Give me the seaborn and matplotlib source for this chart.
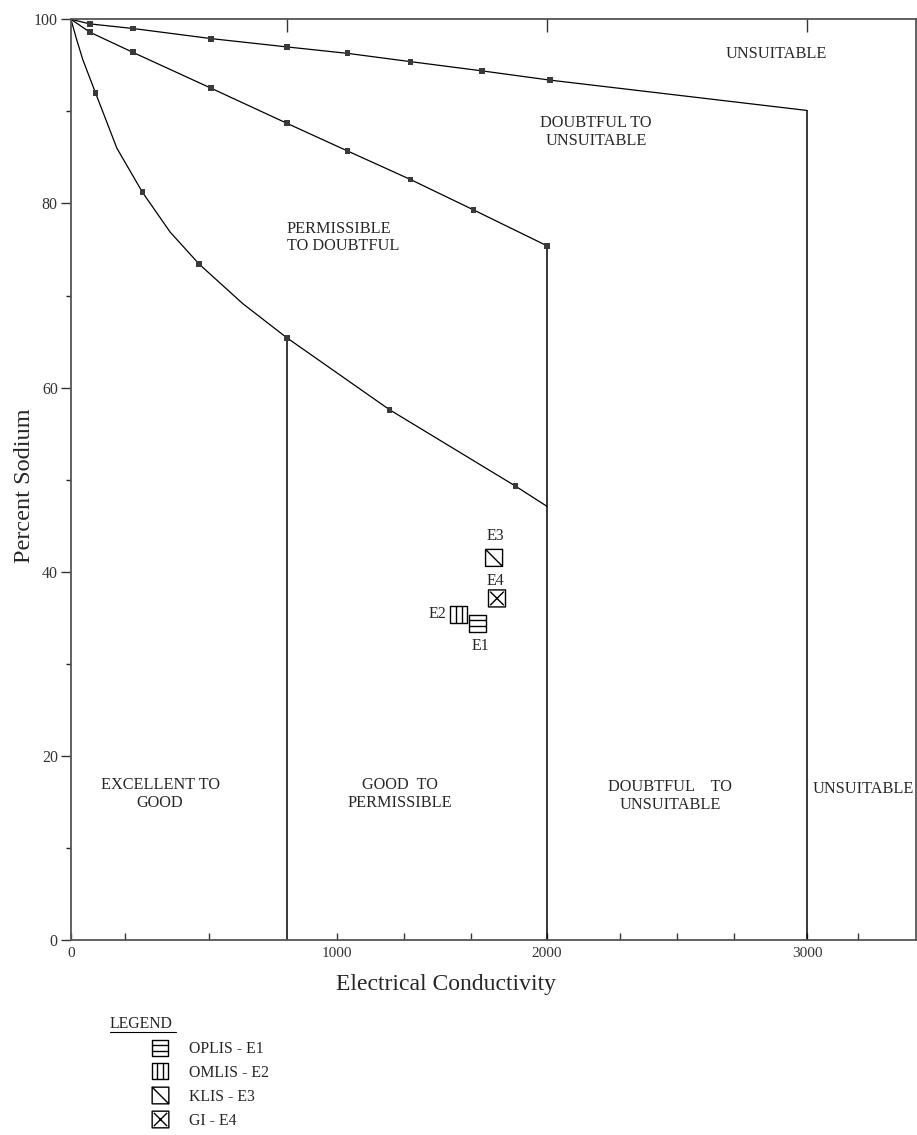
import numpy as np
import matplotlib
matplotlib.use("Agg")
import matplotlib.pyplot as plt
from matplotlib.path import Path
from matplotlib.lines import Line2D
import seaborn as sns

# boundary curves of the Wilcox diagram (EC, % Na)
top_ec = [0, 70, 230, 520, 800, 1050, 1350, 1690, 2010, 3000]
top_na = [100, 99.5, 99.0, 97.9, 97.0, 96.3, 95.4, 94.4, 93.4, 90.1]
top_marked = [False, True, True, True, True, True, True, True, True, False]

mid_ec = [0, 70, 230, 520, 800, 1050, 1350, 1650, 2000]
mid_na = [100, 98.6, 96.4, 92.5, 88.7, 85.7, 82.6, 79.3, 75.4]
mid_marked = [False, True, True, True, True, True, True, True, True]

low_ec = [0, 20, 44, 91, 170, 265, 367, 475, 637, 800, 1250, 1850, 2000]
low_na = [100, 97.9, 95.6, 92.0, 86.0, 81.2, 76.9, 73.4, 69.1, 65.4, 57.6, 49.3, 47.1]
low_marked = [False, False, False, True, False, True, False, True, False, True, True, True, False]

# vertical class limits
bound_ec = [800, 2000, 3000]
bound_top = [65.4, 75.4, 90.1]

# water samples
sample_names = ["OPLIS - E1", "OMLIS - E2", "KLIS - E3", "GI - E4"]
sample_tags = ["E1", "E2", "E3", "E4"]
sample_ec = [1668, 1580, 1748, 1762]
sample_na = [34.4, 35.4, 41.5, 37.1]

# the EC axis on the original sheet is not evenly stretched
ec_knots = [0, 800, 1000, 2000, 3000, 3450]
px_knots = [0, 216, 266, 476, 736, 845]


def fwd(x):
    return np.interp(x, ec_knots, px_knots)


def inv(p):
    return np.interp(p, px_knots, ec_knots)


def box_marker(extra):
    verts = [(-1, -1), (1, -1), (1, 1), (-1, 1), (-1, -1)]
    codes = [Path.MOVETO, Path.LINETO, Path.LINETO, Path.LINETO, Path.CLOSEPOLY]
    for a, b in extra:
        verts += [a, b]
        codes += [Path.MOVETO, Path.LINETO]
    return Path(verts, codes)


t = 1 / 3
q = 0.8
markers = {
    "OPLIS - E1": box_marker([((-1, t), (1, t)), ((-1, -t), (1, -t))]),
    "OMLIS - E2": box_marker([((t, -1), (t, 1)), ((-t, -1), (-t, 1))]),
    "KLIS - E3": box_marker([((-1, 1), (1, -1))]),
    "GI - E4": box_marker([((-q, q), (q, -q)), ((-q, -q), (q, q))]),
}

sns.set_theme(style="white")
plt.rcParams["font.family"] = ["Liberation Serif", "DejaVu Serif"]

fig, ax = plt.subplots(figsize=(9.17, 11.35), dpi=100)
fig.subplots_adjust(left=0.0774, right=0.9989, bottom=0.1718, top=0.983)
ax.set_xscale("function", functions=(fwd, inv))

for ec, na, mk in [(top_ec, top_na, top_marked), (mid_ec, mid_na, mid_marked),
                   (low_ec, low_na, low_marked)]:
    sns.lineplot(x=ec, y=na, sort=False, estimator=None, color="black", lw=0.9, ax=ax)
    sns.scatterplot(x=[e for e, m in zip(ec, mk) if m], y=[n for n, m in zip(na, mk) if m],
                    marker="s", s=18, color="#3a3a3a", edgecolor="none", ax=ax, zorder=3)

ax.vlines(bound_ec, 0, bound_top, color="black", lw=1.1)

sns.scatterplot(x=sample_ec, y=sample_na, style=sample_names, markers=markers,
                s=150, color="white", edgecolor="black", linewidth=1.0,
                legend=False, ax=ax, zorder=4)

tag_offsets = {"E1": (2, -16), "E2": (-15, 0), "E3": (1, 16), "E4": (-1, 12.5)}
for tag, x, y in zip(sample_tags, sample_ec, sample_na):
    ax.annotate(tag, (x, y), xytext=tag_offsets[tag], textcoords="offset points",
                ha="center", va="center", fontsize=11.5)

zone_kw = dict(fontsize=11.7, linespacing=1.15, va="center")
ax.text(2881, 96.2, "UNSUITABLE", ha="center", **zone_kw)
ax.text(2188, 87.8, "DOUBTFUL TO\nUNSUITABLE", ha="center", **zone_kw)
ax.text(800, 76.3, "PERMISSIBLE\nTO DOUBTFUL", ha="left", **zone_kw)
ax.text(330, 15.9, "EXCELLENT TO\nGOOD", ha="center", **zone_kw)
ax.text(1300, 15.9, "GOOD  TO\nPERMISSIBLE", ha="center", **zone_kw)
ax.text(2473, 15.6, "DOUBTFUL    TO\nUNSUITABLE", ha="center", **zone_kw)
ax.text(3025, 16.4, "UNSUITABLE", ha="left", **zone_kw)

ax.set_xlim(0, 3450)
ax.set_ylim(0, 100)
ax.set_xticks([0, 1000, 2000, 3000])
ax.set_xticks([200, 510, 1320, 1640, 2280, 2500, 2720, 3210], minor=True)
ax.set_yticks([0, 20, 40, 60, 80, 100])
ax.set_yticks([10, 30, 50, 70, 90], minor=True)
ax.tick_params(axis="x", which="both", direction="in", length=5, width=1,
               pad=5, labelsize=11, colors="#333333", bottom=True)
ax.tick_params(axis="y", which="major", direction="out", length=7.5, width=1,
               pad=2, labelsize=11.5, colors="#333333", left=True)
ax.tick_params(axis="y", which="minor", direction="out", length=3.5, width=1, left=True)

for sp in ax.spines.values():
    sp.set_visible(True)
    sp.set_color("#555555")
    sp.set_linewidth(1.3)

top = ax.twiny()
top.set_xscale("function", functions=(fwd, inv))
top.set_xlim(0, 3450)
top.set_xticks(bound_ec)
top.tick_params(axis="x", direction="in", length=9.5, width=1, color="#333333", labeltop=False)
for sp in top.spines.values():
    sp.set_visible(False)

ax.set_xlabel("Electrical Conductivity", fontsize=17)
ax.set_ylabel("Percent Sodium", fontsize=17.5)
ax.xaxis.set_label_coords(0.444, -0.037)
ax.yaxis.set_label_coords(-0.042, 0.493)

handles = [Line2D([], [], ls="none", marker=markers[n], ms=12, mfc="white",
                  mec="black", mew=1.0, label=n) for n in sample_names]
fig.legend(handles=handles, loc="upper left", bbox_to_anchor=(151 / 917, 1 - 1041 / 1135),
           frameon=False, fontsize=11.3, handlelength=1.2, handletextpad=1.2,
           labelspacing=0.5, borderpad=0, borderaxespad=0)
fig.text(110 / 917, 1 - 1024 / 1135, "LEGEND", fontsize=11.3, va="center")
fig.add_artist(Line2D([110 / 917, 176 / 917], [1 - 1032 / 1135] * 2,
                      transform=fig.transFigure, color="black", lw=0.8))

fig.savefig("out.png", dpi=100)
